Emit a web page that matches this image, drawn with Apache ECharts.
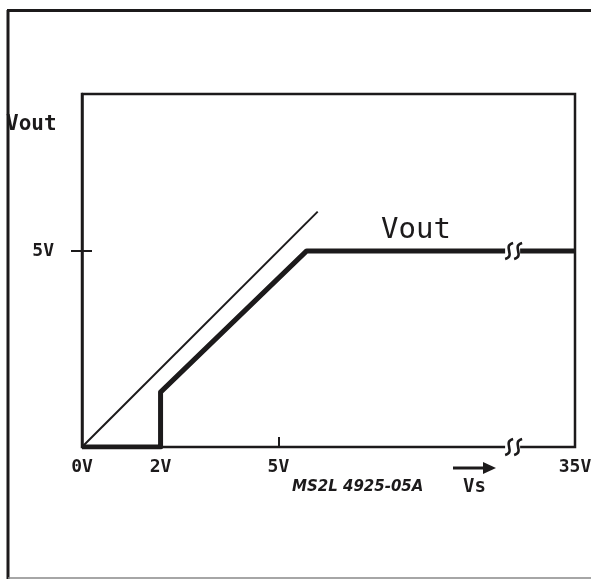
<!DOCTYPE html>
<html><head><meta charset="utf-8">
<script src="https://cdn.jsdelivr.net/npm/echarts@6/dist/echarts.min.js"></script>
<style>html,body{margin:0;padding:0;background:#fff}#c{width:591px;height:579px}</style>
</head><body><div id="c"></div>
<script>
// Data (volts)
const xTickValues = [0, 2, 5, 35];
const yTickValues = [5];
const idealLine = [[0, 0], [6, 6]];
const voutLine = [[0, 0], [2, 0], [2, 1.4], [5.72, 5], [35, 5]];
const breakMarks = [[11, 5], [11, 0]];
const xBreak = { start: 11, end: 33.45 };
const yAxisTitle = 'Vout';
const curveLabel = 'Vout';
const xAxisTitle = 'Vs';
const partNo = 'MS2L 4925-05A';

const INK = '#1c1a1b';
const MONO = '"DejaVu Sans Mono", "Liberation Mono", monospace';

const chart = echarts.init(document.getElementById('c'), null, { renderer: 'canvas' });

chart.setOption({
  backgroundColor: '#fff',
  animation: false,
  grid: { left: 82, right: 16, top: 94, bottom: 132, outerBoundsMode: 'none', containLabel: false,
    show: true, borderColor: INK, borderWidth: 2.5, backgroundColor: 'transparent' },
  xAxis: {
    type: 'value', min: 0, max: 35,
    breaks: [{ start: xBreak.start, end: xBreak.end, gap: 0 }],
    breakArea: { show: false },
    axisLine: { show: true, lineStyle: { color: INK, width: 2 } },
    axisTick: { show: true, inside: true, length: 10, customValues: [5], lineStyle: { color: INK, width: 2 } },
    axisLabel: { show: true, customValues: xTickValues, margin: 11, formatter: v => v + 'V',
      fontFamily: MONO, fontWeight: 'bold', fontSize: 18, color: INK },
    splitLine: { show: false }
  },
  yAxis: [{
    type: 'value', min: 0, max: 9,
    axisLine: { show: true, lineStyle: { color: INK, width: 2.5 } },
    axisTick: { show: true, length: 11, customValues: yTickValues, lineStyle: { color: INK, width: 2 } },
    axisLabel: { show: true, customValues: yTickValues, margin: 28, formatter: v => v + 'V',
      fontFamily: MONO, fontWeight: 'bold', fontSize: 18, color: INK },
    splitLine: { show: false }
  }, {
    type: 'value', min: 0, max: 9, position: 'left', offset: 0,
    axisLine: { show: false },
    axisTick: { show: true, inside: true, length: 10, customValues: yTickValues, lineStyle: { color: INK, width: 2 } },
    axisLabel: { show: false },
    splitLine: { show: false }
  }],
  series: [
    { type: 'line', data: idealLine, symbol: 'none', lineStyle: { color: INK, width: 2 }, z: 3 },
    { type: 'line', data: voutLine, symbol: 'none', lineStyle: { color: INK, width: 5, join: 'round' }, z: 4 },
    { type: 'custom', data: breakMarks, z: 6,
      renderItem: function (params, api) {
        const p = api.coord([api.value(0), api.value(1)]);
        const mk = (cx) => ({ type: 'bezierCurve', shape: {
            x1: cx + 4, y1: p[1] - 8, cpx1: cx - 7, cpy1: p[1] - 5,
            cpx2: cx + 7, cpy2: p[1] + 5, x2: cx - 4, y2: p[1] + 8 },
          style: { stroke: INK, lineWidth: 2.6, fill: null } });
        return { type: 'group', children: [
          { type: 'rect', shape: { x: p[0] - 9, y: p[1] - 4, width: 15, height: 8 }, style: { fill: '#fff' } },
          mk(p[0] - 5), mk(p[0] + 4)
        ] };
      }
    }
  ],
  graphic: [
    { type: 'line', shape: { x1: 8, y1: 10, x2: 8, y2: 579 }, style: { stroke: INK, lineWidth: 3 } },
    { type: 'line', shape: { x1: 7, y1: 10.5, x2: 591, y2: 10.5 }, style: { stroke: INK, lineWidth: 3 } },
    { type: 'line', shape: { x1: 8, y1: 578, x2: 591, y2: 578 }, style: { stroke: '#888', lineWidth: 1.5 } },
    { type: 'text', left: 6, top: 114, style: { text: yAxisTitle, font: 'bold 21px ' + MONO, fill: INK } },
    { type: 'text', left: 381, top: 216, style: { text: curveLabel, font: '29px ' + MONO, fill: INK } },
    { type: 'text', left: 292, top: 480, style: { text: partNo, font: 'italic bold 15px "DejaVu Sans", sans-serif', fill: INK } },
    { type: 'text', left: 463, top: 478, style: { text: xAxisTitle, font: 'bold 19px ' + MONO, fill: INK } },
    { type: 'line', shape: { x1: 453, y1: 468, x2: 485, y2: 468 }, style: { stroke: INK, lineWidth: 3 } },
    { type: 'polygon', shape: { points: [[483, 462], [496, 468], [483, 474]] }, style: { fill: INK } }
  ]
});
</script>
</body></html>
